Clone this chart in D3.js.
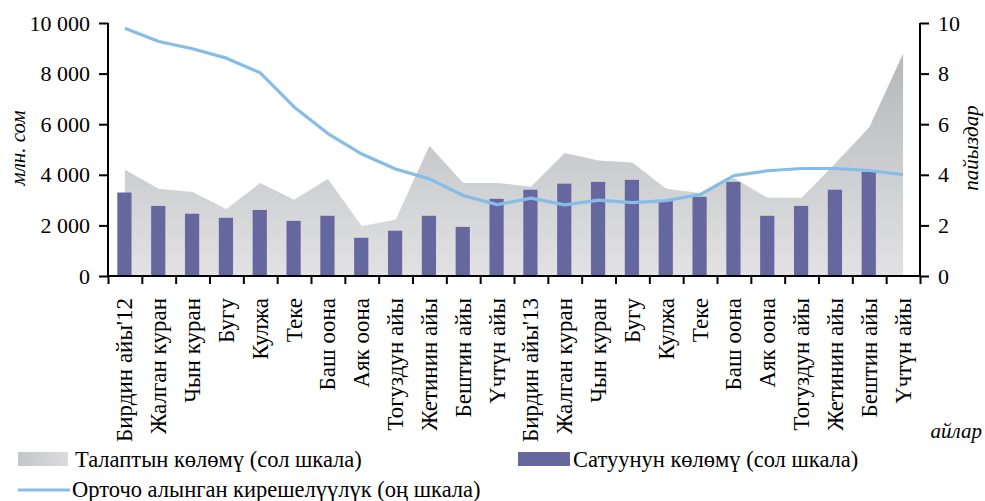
<!DOCTYPE html>
<html><head><meta charset="utf-8">
<script src="https://cdn.jsdelivr.net/npm/d3@7"></script>
<style>body{margin:0;background:#fff}svg{display:block}</style>
</head><body><svg id="c" width="985" height="501"></svg>
<script>
const categories = ["Бирдин айы'12","Жалган куран","Чын куран","Бугу","Кулжа","Теке","Баш оона","Аяк оона","Тогуздун айы","Жетинин айы","Бештин айы","Үчтүн айы","Бирдин айы'13","Жалган куран","Чын куран","Бугу","Кулжа","Теке","Баш оона","Аяк оона","Тогуздун айы","Жетинин айы","Бештин айы","Үчтүн айы"];
const demand = [4200,3450,3320,2650,3680,3010,3830,1980,2220,5150,3680,3680,3530,4860,4570,4490,3450,3280,3870,3090,3090,4460,5880,8780];
const sales = [3300,2770,2460,2300,2610,2180,2380,1510,1790,2380,1940,3050,3410,3650,3720,3800,3000,3130,3720,2380,2770,3410,4120,null];
const yieldAvg = [9.79,9.27,8.98,8.61,8.03,6.68,5.63,4.82,4.23,3.84,3.18,2.82,3.08,2.81,3.00,2.90,2.98,3.22,3.97,4.16,4.25,4.25,4.17,4.01];
const leftTicks = [0,2000,4000,6000,8000,10000];
const rightTicks = [0,2,4,6,8,10];
const labels = {left:"млн. сом", right:"пайыздар", x:"айлар",
  demand:"Талаптын көлөмү (сол шкала)", sales:"Сатуунун көлөмү (сол шкала)", yield:"Орточо алынган кирешелүүлүк (оң шкала)"};

const FONT = "'Liberation Serif','Times New Roman',serif";
const svg = d3.select("#c");
const L = 108, R = 920, T = 23, B = 276;
const idx = d3.range(categories.length);
const x = d3.scaleBand().domain(idx).range([L, R]).padding(0);
const cx = i => x(i) + x.bandwidth()/2;
const yL = d3.scaleLinear().domain([0,10000]).range([B, T]);
const yR = d3.scaleLinear().domain([0,10]).range([B, T]);

const defs = svg.append("defs");
const g1 = defs.append("linearGradient").attr("id","ga").attr("gradientUnits","userSpaceOnUse")
  .attr("x1",0).attr("x2",0).attr("y1",yL(d3.max(demand))).attr("y2",yL(0));
g1.append("stop").attr("offset","0%").attr("stop-color","#b5b7ba");
g1.append("stop").attr("offset","100%").attr("stop-color","#e2e2e4");
const g2 = defs.append("linearGradient").attr("id","gl").attr("x1",0).attr("x2",1).attr("y1",0).attr("y2",0);
g2.append("stop").attr("offset","0%").attr("stop-color","#c4c5c8");
g2.append("stop").attr("offset","100%").attr("stop-color","#dcdcde");

// area
svg.append("path")
  .attr("fill","url(#ga)")
  .attr("d", d3.area().x(i=>cx(i)).y0(yL(0)).y1(i=>yL(demand[i]))(idx));

// bars
const bw = x.bandwidth()*0.42;
svg.append("g").selectAll("rect").data(idx.filter(i=>sales[i]!=null)).join("rect")
  .attr("x", i=>cx(i)-bw/2 - 0.5).attr("width", bw)
  .attr("y", i=>yL(sales[i])).attr("height", i=>yL(0)-yL(sales[i]))
  .attr("fill","#66679f");

// line
svg.append("path").attr("fill","none").attr("stroke","#85bde8").attr("stroke-width",3.2)
  .attr("stroke-linejoin","round")
  .attr("d", d3.line().x(i=>cx(i)).y(i=>yR(yieldAvg[i]))(idx));

// axes
const fmt = d => d3.format(",")(d).replace(/,/g," ");
const axL = svg.append("g").attr("transform",`translate(${L},0)`)
  .call(d3.axisLeft(yL).tickValues(leftTicks).tickFormat(fmt).tickSize(9).tickPadding(9));
const axR = svg.append("g").attr("transform",`translate(${R},0)`)
  .call(d3.axisRight(yR).tickValues(rightTicks).tickFormat(d3.format("d")).tickSize(9).tickPadding(9));
const axB = svg.append("g").attr("transform",`translate(0,${B})`)
  .call(d3.axisBottom(d3.scaleLinear().domain([0,categories.length]).range([L,R]))
    .tickValues(d3.range(categories.length+1)).tickFormat("").tickSize(8));
[axL,axR,axB].forEach(a=>{
  a.select(".domain").attr("stroke","#000").attr("stroke-width",2);
  a.selectAll(".tick line").attr("stroke","#000").attr("stroke-width",2);
  a.selectAll("text").attr("font-family",FONT).attr("font-size",22).attr("fill","#000");
});
axL.select(".domain").attr("d",`M0,${B}V${T}`);
axR.select(".domain").attr("d",`M0,${B}V${T}`);
axB.select(".domain").attr("d",`M${L},0H${R}`);

// category labels
svg.append("g").selectAll("text").data(idx).join("text")
  .attr("transform", i=>`translate(${cx(i)+7.5},298) rotate(-90)`)
  .attr("text-anchor","end").attr("font-family",FONT).attr("font-size",23)
  .text(i=>categories[i]);

// axis titles
svg.append("text").attr("transform","translate(25,148) rotate(-90)").attr("text-anchor","middle")
  .attr("font-family",FONT).attr("font-style","italic").attr("font-size",21).text(labels.left);
svg.append("text").attr("transform","translate(978,148) rotate(-90)").attr("text-anchor","middle")
  .attr("font-family",FONT).attr("font-style","italic").attr("font-size",21).text(labels.right);
svg.append("text").attr("x",982).attr("y",438).attr("text-anchor","end")
  .attr("font-family",FONT).attr("font-style","italic").attr("font-size",21).text(labels.x);

// legend
const lg = svg.append("g").attr("font-family",FONT).attr("font-size",22.5);
lg.append("rect").attr("x",18).attr("y",452).attr("width",50).attr("height",14).attr("fill","url(#gl)");
lg.append("text").attr("x",75).attr("y",467).text(labels.demand);
lg.append("rect").attr("x",518).attr("y",452).attr("width",52).attr("height",14).attr("fill","#66679f");
lg.append("text").attr("x",573).attr("y",467).text(labels.sales);
lg.append("line").attr("x1",18).attr("x2",70).attr("y1",490).attr("y2",490).attr("stroke","#85bde8").attr("stroke-width",3.2);
lg.append("text").attr("x",72).attr("y",497).text(labels.yield);
</script></body></html>
